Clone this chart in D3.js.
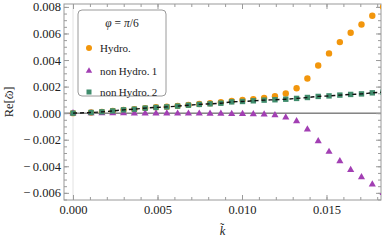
<!DOCTYPE html>
<html>
<head>
<meta charset="utf-8">
<script src="https://cdn.jsdelivr.net/npm/d3@7"></script>
<style>
  body { margin: 0; background: #fff; }
  svg { display: block; }
  text { font-family: 'Liberation Serif', 'DejaVu Serif', serif; fill: #222; }
</style>
</head>
<body>
<div id="chart"></div>
<script>
// wave number samples
const kValues = [0, 0.00107, 0.00171, 0.00235, 0.00299, 0.00363, 0.00427, 0.00491, 0.00555,
  0.00619, 0.00683, 0.00747, 0.00811, 0.00875, 0.00939, 0.01003, 0.01067, 0.01131, 0.01195,
  0.01259, 0.01323, 0.01387, 0.01451, 0.01515, 0.01579, 0.01643, 0.01707, 0.01771, 0.01835]

const hydro = [0, 0.00005, 0.0001, 0.00017, 0.00025, 0.0003, 0.00038, 0.00044, 0.00049,
  0.00055, 0.00062, 0.00069, 0.00075, 0.00082, 0.00092, 0.001, 0.00106, 0.00114, 0.00127,
  0.00148, 0.00188, 0.00261, 0.00359, 0.0045, 0.00535, 0.00605, 0.00668, 0.00733, 0.008]

const nonHydro1 = [0, -0.00001, -0.00001, -0.00001, -0.00001, -0.00002, -0.00002, -0.00002, -0.00002,
  -0.00003, -0.00003, -0.00003, -0.00004, -0.00004, -0.00005, -0.00006, -0.00008, -0.0001, -0.00015,
  -0.00032, -0.0006, -0.00123, -0.00211, -0.00291, -0.00361, -0.00427, -0.00482, -0.00537, -0.006]

const nonHydro2 = [0, 0.00005, 0.0001, 0.00017, 0.00025, 0.0003, 0.00038, 0.00043, 0.00047,
  0.00053, 0.0006, 0.00066, 0.0007, 0.00075, 0.00085, 0.00088, 0.00093, 0.00098, 0.00101,
  0.00105, 0.00111, 0.00118, 0.00126, 0.0013, 0.00136, 0.00141, 0.00145, 0.00153, 0.00158]

const xTicks = [0, 0.005, 0.01, 0.015]
const xTickLabels = ['0.000', '0.005', '0.010', '0.015']
const yTicks = [-0.006, -0.004, -0.002, 0, 0.002, 0.004, 0.006, 0.008]
const yTickLabels = ['\u2212\u20090.006', '\u2212\u20090.004', '\u2212\u20090.002', '0.000', '0.002', '0.004', '0.006', '0.008']

const seriesNames = ['Hydro.', 'non\u2009Hydro.\u20091', 'non\u2009Hydro.\u20092']

const margin = { top: 4, right: 1, bottom: 42, left: 64 }
const width = 382 - margin.left - margin.right
const height = 242 - margin.top - margin.bottom

const svg = d3
  .select('#chart')
  .append('svg')
  .attr('width', 382)
  .attr('height', 242)
  .append('g')
  .attr('transform', 'translate(' + margin.left + ',' + margin.top + ')')

const xPositionScale = d3.scaleLinear().domain([-0.000533, 0.018225]).range([0, width])
const yPositionScale = d3.scaleLinear().domain([-0.00654, 0.00822]).range([height, 0])

svg.append('clipPath').attr('id', 'clip')
  .append('rect').attr('width', width).attr('height', height)

// vertical axis line at k = 0 and horizontal line at 0
svg.append('line')
  .attr('x1', xPositionScale(0)).attr('x2', xPositionScale(0))
  .attr('y1', 0).attr('y2', height)
  .attr('stroke', '#e2e2e2').attr('stroke-width', 1)

svg.append('line')
  .attr('x1', 0).attr('x2', width)
  .attr('y1', yPositionScale(0)).attr('y2', yPositionScale(0))
  .attr('stroke', '#444').attr('stroke-width', 1)

/* frame ticks */
const minorX = d3.range(0, 0.0185, 0.001)
const minorY = d3.range(-0.0065, 0.0085, 0.0005)

function frameAxis (axis, transform) {
  const g = svg.append('g').attr('transform', transform).call(axis)
  g.select('.domain').remove()
  g.selectAll('line').attr('stroke', '#9a9a9a')
  return g
}

frameAxis(d3.axisBottom(xPositionScale).tickValues(minorX).tickSize(-3).tickFormat(''), 'translate(0,' + height + ')')
frameAxis(d3.axisTop(xPositionScale).tickValues(minorX).tickSize(-3).tickFormat(''), 'translate(0,0)')
frameAxis(d3.axisLeft(yPositionScale).tickValues(minorY).tickSize(-3).tickFormat(''), 'translate(0,0)')
frameAxis(d3.axisRight(yPositionScale).tickValues(minorY).tickSize(-3).tickFormat(''), 'translate(' + width + ',0)')

const xAxis = frameAxis(
  d3.axisBottom(xPositionScale).tickValues(xTicks).tickSize(-5).tickPadding(5)
    .tickFormat((d, i) => xTickLabels[i]),
  'translate(0,' + height + ')')
xAxis.selectAll('text').attr('font-size', 12.5)

frameAxis(d3.axisTop(xPositionScale).tickValues(xTicks).tickSize(-5).tickFormat(''), 'translate(0,0)')

const yAxis = frameAxis(
  d3.axisLeft(yPositionScale).tickValues(yTicks).tickSize(-5).tickPadding(3)
    .tickFormat((d, i) => yTickLabels[i]),
  'translate(0,0)')
yAxis.selectAll('text').attr('font-size', 12.5)

frameAxis(d3.axisRight(yPositionScale).tickValues(yTicks).tickSize(-5).tickFormat(''), 'translate(' + width + ',0)')

// frame
svg.append('rect')
  .attr('width', width).attr('height', height)
  .attr('fill', 'none').attr('stroke', '#9a9a9a').attr('stroke-width', 1)

/* data */
const points = kValues.map((k, i) => ({ k: k, h: hydro[i], n1: nonHydro1[i], n2: nonHydro2[i] }))
const plot = svg.append('g').attr('clip-path', 'url(#clip)')

plot.selectAll('.hydro')
  .data(points)
  .enter()
  .append('circle')
  .attr('class', 'hydro')
  .attr('r', 3.2)
  .attr('cx', d => xPositionScale(d.k))
  .attr('cy', d => yPositionScale(d.h))
  .attr('fill', '#f2960c')

plot.selectAll('.nh1')
  .data(points)
  .enter()
  .append('path')
  .attr('class', 'nh1')
  .attr('d', d3.symbol().type(d3.symbolTriangle).size(22))
  .attr('transform', d => 'translate(' + xPositionScale(d.k) + ',' + yPositionScale(d.n1) + ')')
  .attr('fill', '#a23fb3')

plot.selectAll('.nh2')
  .data(points)
  .enter()
  .append('rect')
  .attr('class', 'nh2')
  .attr('width', 5.4).attr('height', 5.4)
  .attr('x', d => xPositionScale(d.k) - 2.7)
  .attr('y', d => yPositionScale(d.n2) - 2.7)
  .attr('fill', '#3f8c6c')

const line = d3.line()
  .x(d => xPositionScale(d.k))
  .y(d => yPositionScale(d.n2))
  .curve(d3.curveMonotoneX)

plot.append('path')
  .datum(points)
  .attr('d', line)
  .attr('fill', 'none')
  .attr('stroke', '#111')
  .attr('stroke-width', 1.4)
  .attr('stroke-dasharray', '4,3')

/* legend */
const legend = svg.append('g').attr('transform', 'translate(14,6)')
legend.append('rect')
  .attr('width', 88).attr('height', 86)
  .attr('rx', 4)
  .attr('fill', '#fff').attr('stroke', '#9a9a9a').attr('stroke-width', 1)

const title = legend.append('text')
  .attr('x', 44).attr('y', 17)
  .attr('text-anchor', 'middle')
  .attr('font-size', 11.5)
title.append('tspan').attr('font-style', 'italic').text('φ')
title.append('tspan').text(' = ')
title.append('tspan').attr('font-style', 'italic').text('π')
title.append('tspan').text('/6')

const rowY = [38, 61, 82]
legend.append('circle').attr('cx', 11).attr('cy', rowY[0]).attr('r', 3).attr('fill', '#f2960c')
legend.append('path')
  .attr('d', d3.symbol().type(d3.symbolTriangle).size(18))
  .attr('transform', 'translate(11,' + rowY[1] + ')')
  .attr('fill', '#a23fb3')
legend.append('rect').attr('x', 8.5).attr('y', rowY[2] - 2.5).attr('width', 5).attr('height', 5).attr('fill', '#3f8c6c')

legend.selectAll('.lab')
  .data(seriesNames)
  .enter()
  .append('text')
  .attr('class', 'lab')
  .attr('x', 22)
  .attr('y', (d, i) => rowY[i] + 4)
  .attr('font-size', 11)
  .text(d => d)

/* axis titles */
const yLabel = svg.append('text')
  .attr('transform', 'translate(' + (-51) + ',' + (height / 2) + ') rotate(-90)')
  .attr('text-anchor', 'middle')
  .attr('font-size', 12.5)
yLabel.append('tspan').text('Re[')
yLabel.append('tspan').attr('font-style', 'italic').text('ω')
yLabel.append('tspan').attr('dx', -6.8).attr('dy', 1).text('\u02dc')
yLabel.append('tspan').attr('dx', 2.2).attr('dy', -1).text(']')

const xLabel = svg.append('text')
  .attr('x', width / 2)
  .attr('y', height + 35)
  .attr('text-anchor', 'middle')
  .attr('font-size', 12.5)
xLabel.append('tspan').attr('font-style', 'italic').text('k')
xLabel.append('tspan').attr('dx', -5.4).attr('dy', -3.5).text('\u02dc')
</script>
</body>
</html>
